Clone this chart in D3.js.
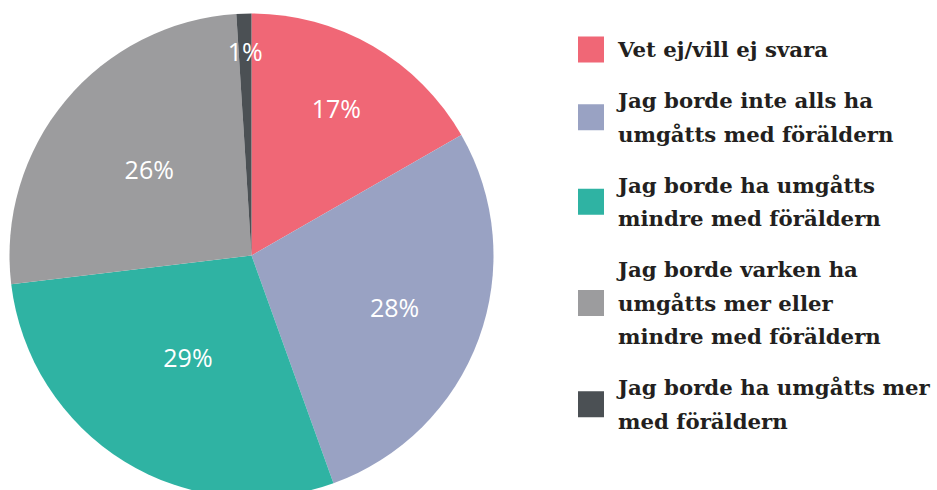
<!DOCTYPE html>
<html>
<head>
<meta charset="utf-8">
<script src="https://cdn.jsdelivr.net/npm/d3@7"></script>
<style>
html,body{margin:0;padding:0;background:#fff;overflow:hidden;}
svg{display:block;}
</style>
</head>
<body>
<svg id="chart" width="937" height="490"></svg>
<script>
const categories = [
  "Vet ej/vill ej svara",
  "Jag borde inte alls ha umgåtts med föräldern",
  "Jag borde ha umgåtts mindre med föräldern",
  "Jag borde varken ha umgåtts mer eller mindre med föräldern",
  "Jag borde ha umgåtts mer med föräldern"
];
const legendLines = [
  ["Vet ej/vill ej svara"],
  ["Jag borde inte alls ha", "umgåtts med föräldern"],
  ["Jag borde ha umgåtts", "mindre med föräldern"],
  ["Jag borde varken ha", "umgåtts mer eller", "mindre med föräldern"],
  ["Jag borde ha umgåtts mer", "med föräldern"]
];
const values = [16.7, 27.8, 28.6, 25.9, 1.0];
const valueLabels = ["17%", "28%", "29%", "26%", "1%"];
const colors = ["#f06776", "#99a2c3", "#2fb3a3", "#9c9c9e", "#4b5054"];
const labelRadius = [0.70, 0.63, 0.50, 0.55, 0.84];

const svg = d3.select("#chart");
const cx = 251.5, cy = 255.5, r = 242;

const pie = d3.pie().sort(null).value(d => d)(values);
const arc = d3.arc().innerRadius(0).outerRadius(r);

const g = svg.append("g").attr("transform", `translate(${cx},${cy})`);
g.selectAll("path").data(pie).join("path")
  .attr("d", arc)
  .attr("fill", (d, i) => colors[i]);

g.selectAll("text").data(pie).join("text")
  .attr("transform", (d, i) => {
    const a = (d.startAngle + d.endAngle) / 2;
    const rr = r * labelRadius[i];
    return `translate(${Math.sin(a) * rr},${-Math.cos(a) * rr})`;
  })
  .attr("text-anchor", "middle")
  .attr("dy", "0.35em")
  .attr("fill", "#fff")
  .style("font-family", "'Open Sans', sans-serif")
  .style("font-size", "25px")
  .text((d, i) => valueLabels[i]);

// Legend
const lx = 578, tx = 618, lineH = 33.5, gap = 17.5, sw = 26;
const firstBaseline = 57.3;
const capH = 15.6;
const legendFont = "'DejaVu Serif', serif";

// pick font size so the widest legend line fits the target width
const probe = svg.append("text")
  .style("font-family", legendFont).style("font-weight", "bold")
  .style("font-size", "20px").text("Jag borde ha umgåtts mer");
const w20 = probe.node().getComputedTextLength();
probe.remove();
const fs = Math.min(23, 20 * 312 / w20);

const legend = svg.append("g");
let baseline = firstBaseline;
legendLines.forEach((lines, i) => {
  const item = legend.append("g");
  const t = item.append("text")
    .attr("fill", "#231f20")
    .style("font-family", legendFont)
    .style("font-weight", "bold")
    .style("font-size", fs + "px");
  lines.forEach((ln, j) => {
    t.append("tspan").attr("x", tx).attr("y", baseline + j * lineH).text(ln);
  });
  const top = baseline - capH;
  const bottom = baseline + (lines.length - 1) * lineH;
  const mid = (top + bottom) / 2;
  item.insert("rect", "text")
    .attr("x", lx).attr("y", mid - sw / 2)
    .attr("width", sw).attr("height", sw)
    .attr("fill", colors[i]);
  baseline = bottom + lineH + gap;
});
</script>
</body>
</html>
